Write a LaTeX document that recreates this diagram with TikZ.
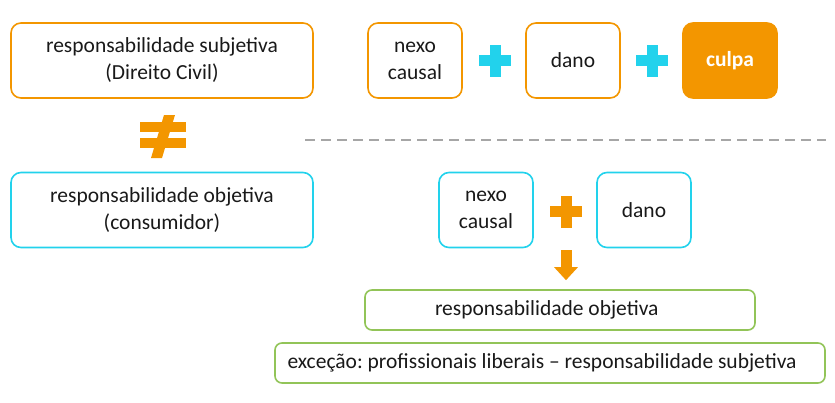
\documentclass[tikz,border=0pt]{standalone}
\usepackage{fontspec}
\setmainfont{Carlito}
\usetikzlibrary{positioning,arrows.meta}
\definecolor{orange1}{RGB}{243,150,0}
\definecolor{cyan1}{RGB}{34,210,236}
\definecolor{green1}{RGB}{146,196,88}
\definecolor{grey1}{RGB}{166,166,166}
\begin{document}
\begin{tikzpicture}[x=1pt, y=-1pt, line width=1.6pt,
  box/.style = {draw, rounded corners=10pt, align=center, inner sep=0pt,
    font=\fontsize{21.5}{27}\selectfont\frenchspacing, text=black!90},
  obox/.style = {box, draw=orange1},
  cbox/.style = {box, draw=cyan1},
  gbox/.style = {box, draw=green1, rounded corners=7pt, minimum height=40pt, align=flush left},
  small/.style = {minimum width=94pt, minimum height=75pt},
  wide/.style = {minimum width=302pt, minimum height=75pt},
  bigarrow/.style = {draw=orange1, line width=11pt, -{Triangle[width=23pt,length=13pt]}}]
\useasboundingbox (0,0) rectangle (835,402);
% left column
\node[obox, wide] (subj) at (162,60.5) {responsabilidade subjetiva\\(Direito Civil)};
\node[cbox, wide] (obj) at (162,210) {responsabilidade objetiva\\(consumidor)};
% not equal sign
\fill[orange1] (140,122) rectangle (186,132);
\fill[orange1] (140,138) rectangle (186,148);
\fill[orange1] (164,115) -- (175,115) -- (162,158) -- (151,158) -- cycle;
% separator
\draw[grey1, line width=2.6pt, dash pattern=on 10pt off 6pt] (305,140) -- (826,140);
% top row
\node[obox, small] (nexoA) at (415,60.5) {nexo\\causal};
\node[obox, small] (danoA) at (573,60.5) {dano};
\node[box, small, draw=orange1, fill=orange1, text=white, font=\fontsize{21.5}{27}\selectfont\bfseries] (culpa) at (730,60.5) {culpa};
\fill[cyan1] (479,55) rectangle (511,66);
\fill[cyan1] (489.5,44.5) rectangle (500.5,76.5);
\fill[cyan1] (636,55) rectangle (668,66);
\fill[cyan1] (646.5,44.5) rectangle (657.5,76.5);
% bottom row
\node[cbox, small] (nexoB) at (486,210) {nexo\\causal};
\node[cbox, small] (danoB) at (644,210) {dano};
\fill[orange1] (550,206) rectangle (582,217);
\fill[orange1] (560.5,195.5) rectangle (571.5,227.5);
\node[gbox, text width=250pt, inner xsep=70pt] (objres) at (560,310) {responsabilidade objetiva};
\node[gbox, text width=525pt, inner xsep=12.5pt] (exc) at (550,363) {exceção: profissionais liberais -- responsabilidade subjetiva};
\coordinate (pair) at (566,250);
\draw[bigarrow] (pair) -- (objres.north -| pair) [shorten >=9pt];
\end{tikzpicture}
\end{document}
